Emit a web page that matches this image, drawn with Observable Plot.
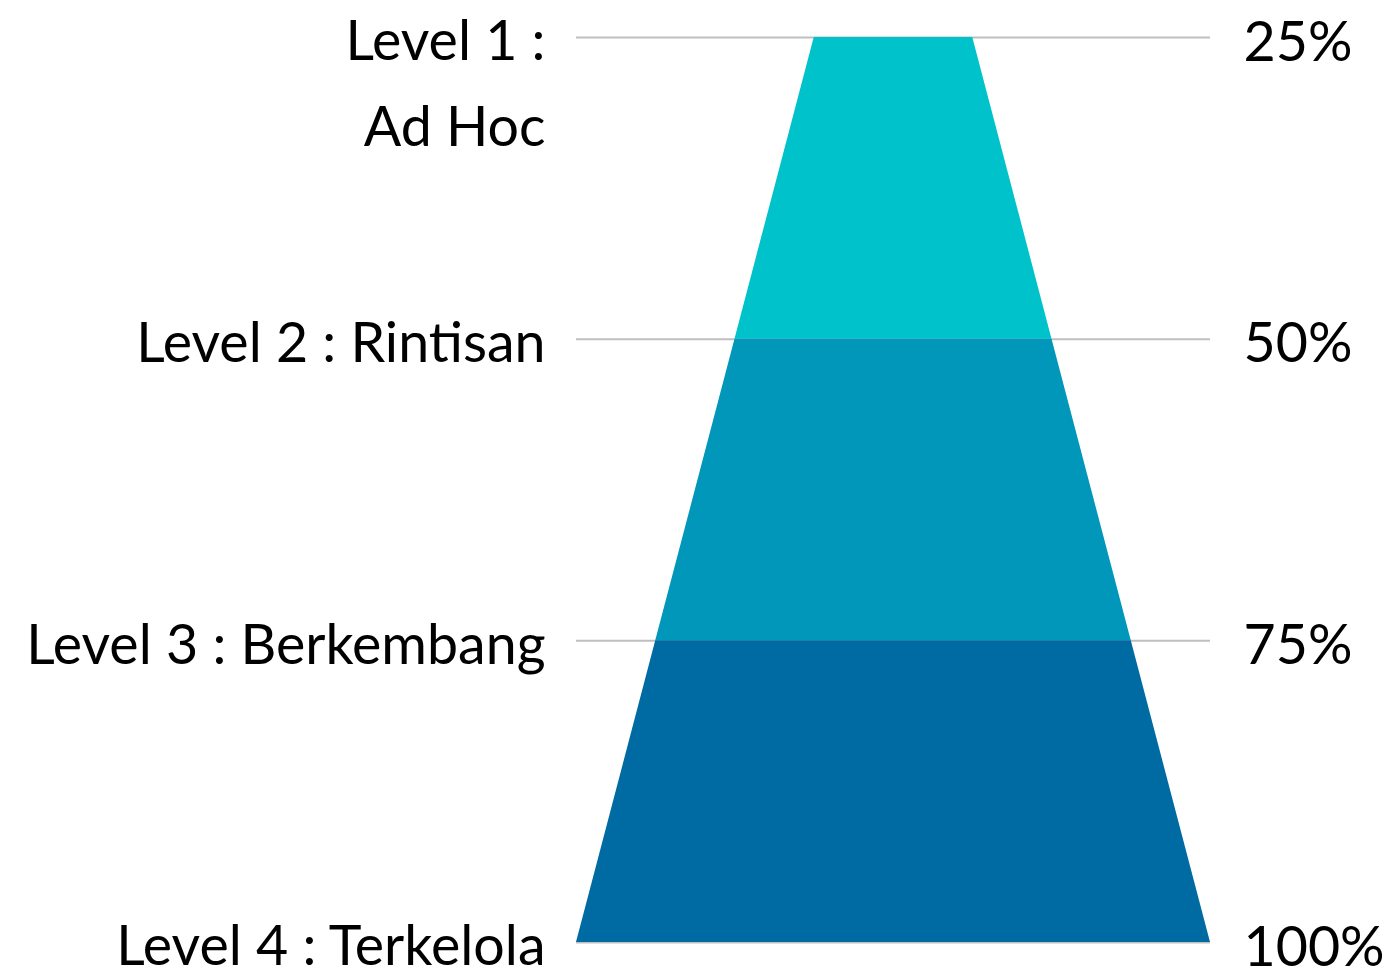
<!DOCTYPE html>
<html>
<head>
<meta charset="utf-8">
<script src="https://cdn.jsdelivr.net/npm/d3@7"></script>
<script src="https://cdn.jsdelivr.net/npm/@observablehq/plot@0.6"></script>
<style>
  html, body { margin: 0; padding: 0; background: #ffffff; }
  #chart svg { display: block; }
</style>
</head>
<body>
<div id="chart"></div>
<script>
// Data
const levelLabels = ["Level 1 :\nAd Hoc", "Level 2 : Rintisan", "Level 3 : Berkembang", "Level 4 : Terkelola"];
const levelShares = [0.25, 0.5, 0.75, 1.0];
const shareTickLabels = ["25%", "50%", "75%", "100%"];
const bandColors = ["#00C2CB", "#0097BA", "#006AA3"];

// Funnel bands (half-width proportional to the share value)
const bandRows = [];
for (let i = 0; i < levelShares.length - 1; i++) {
  for (const s of [levelShares[i], levelShares[i + 1]]) {
    bandRows.push({band: i, y: s, x1: -s, x2: s, color: bandColors[i]});
  }
}
const labelRows = levelShares.map((s, i) => ({y: s, label: levelLabels[i], tick: shareTickLabels[i]}));

const FS = 55.5;
const LH = 86 / FS;
const BASE = 23; // baseline offset below the rule, px
const chart = Plot.plot({
  width: 1384,
  height: 974,
  marginLeft: 576,
  marginRight: 174,
  marginTop: 37,
  marginBottom: 32,
  x: {domain: [-1, 1], axis: null},
  y: {domain: [0.25, 1], reverse: true, axis: null},
  color: {type: "identity"},
  style: {fontFamily: "Lato, 'Open Sans', sans-serif", background: "#ffffff", overflow: "visible"},
  marks: [
    Plot.ruleY(levelShares, {x1: -1, x2: 1, stroke: "#BFBFBF", strokeWidth: 2}),
    Plot.areaX(bandRows, {y: "y", x1: "x1", x2: "x2", z: "band", fill: "color", curve: "linear"}),
    Plot.text(labelRows, {x: -1, y: "y", text: "label", textAnchor: "end", dx: -31,
      lineAnchor: "top", dy: BASE - 0.71 * LH * FS, fontSize: FS, lineHeight: LH, fill: "#000000"}),
    Plot.text(labelRows, {x: 1, y: "y", text: "tick", textAnchor: "start", dx: 33,
      lineAnchor: "top", dy: BASE - 0.71 * FS, fontSize: FS, fill: "#000000"})
  ]
});
document.getElementById("chart").appendChild(chart);
</script>
</body>
</html>
